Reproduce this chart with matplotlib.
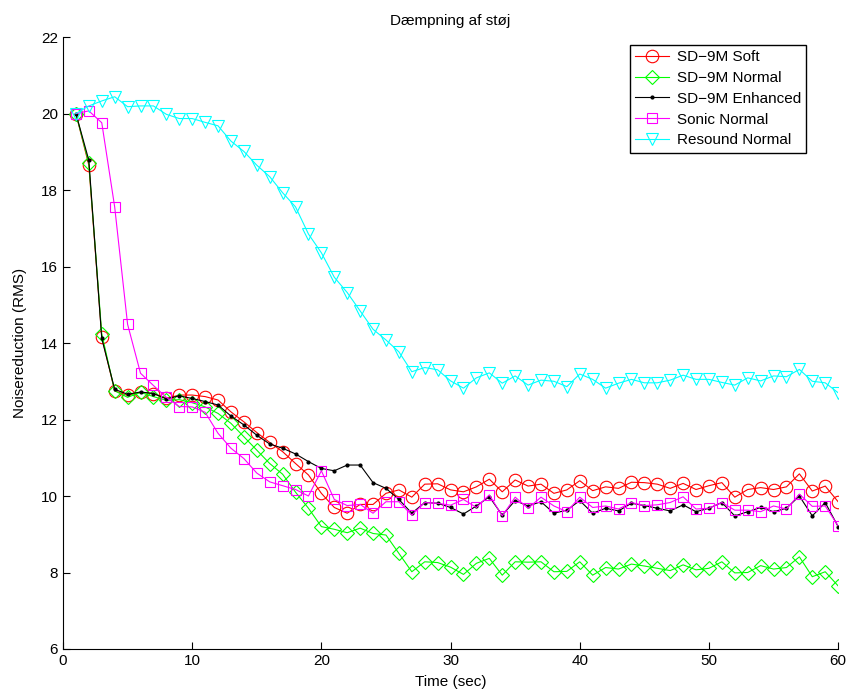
import numpy as np
import matplotlib
matplotlib.use("Agg")
import matplotlib.pyplot as plt

plt.rcParams['font.family'] = ['Liberation Sans', 'DejaVu Sans']

t = np.arange(1, 61)

sd9m_soft = [20.0, 18.65, 14.16, 12.75, 12.63, 12.71, 12.68, 12.55, 12.64, 12.64,
             12.6, 12.51, 12.2, 11.94, 11.66, 11.4, 11.16, 10.85, 10.55, 10.07,
             9.7, 9.55, 9.78, 9.78, 10.07, 10.16, 9.97, 10.31, 10.32, 10.16,
             10.11, 10.24, 10.44, 10.11, 10.42, 10.26, 10.31, 10.07, 10.16, 10.4,
             10.14, 10.24, 10.2, 10.36, 10.35, 10.31, 10.2, 10.33, 10.17, 10.27,
             10.35, 9.97, 10.17, 10.22, 10.17, 10.24, 10.58, 10.13, 10.26, 9.85]

sd9m_normal = [20.0, 18.7, 14.24, 12.75, 12.58, 12.71, 12.6, 12.5, 12.52, 12.44,
               12.33, 12.16, 11.9, 11.55, 11.2, 10.85, 10.57, 10.1, 9.68, 9.2,
               9.13, 9.04, 9.16, 9.02, 8.98, 8.5, 8.02, 8.28, 8.26, 8.14,
               7.95, 8.24, 8.37, 7.93, 8.28, 8.27, 8.28, 8.02, 8.03, 8.28,
               7.93, 8.13, 8.09, 8.22, 8.17, 8.11, 8.05, 8.2, 8.07, 8.11,
               8.28, 7.99, 8.0, 8.18, 8.09, 8.13, 8.41, 7.89, 8.02, 7.65]

sd9m_enhanced = [20.0, 18.78, 14.12, 12.79, 12.66, 12.72, 12.68, 12.54, 12.62, 12.55,
                 12.47, 12.38, 12.09, 11.86, 11.59, 11.36, 11.25, 11.1, 10.9, 10.72,
                 10.66, 10.81, 10.81, 10.35, 10.2, 9.91, 9.55, 9.83, 9.81, 9.7,
                 9.53, 9.74, 9.98, 9.5, 9.88, 9.74, 9.85, 9.55, 9.63, 9.88,
                 9.55, 9.68, 9.61, 9.81, 9.75, 9.68, 9.61, 9.77, 9.59, 9.68,
                 9.83, 9.48, 9.59, 9.7, 9.59, 9.68, 10.0, 9.48, 9.83, 9.2]

sonic_normal = [20.0, 20.07, 19.76, 17.56, 14.49, 13.21, 12.89, 12.58, 12.34, 12.33,
                12.19, 11.64, 11.25, 10.98, 10.6, 10.37, 10.27, 10.17, 10.0, 10.66,
                9.91, 9.75, 9.78, 9.55, 9.85, 9.85, 9.5, 9.83, 9.81, 9.76,
                9.91, 9.7, 10.03, 9.48, 9.97, 9.68, 9.97, 9.74, 9.59, 9.97,
                9.7, 9.74, 9.66, 9.83, 9.75, 9.77, 9.83, 9.98, 9.66, 9.68,
                9.83, 9.63, 9.63, 9.59, 9.74, 9.66, 10.05, 9.73, 9.74, 9.22]

resound_normal = [20.0, 20.2, 20.33, 20.44, 20.18, 20.2, 20.2, 19.98, 19.87, 19.87,
                  19.77, 19.68, 19.28, 19.01, 18.65, 18.35, 17.93, 17.56, 16.85, 16.36,
                  15.72, 15.32, 14.84, 14.36, 14.08, 13.77, 13.25, 13.36, 13.3, 13.01,
                  12.82, 13.09, 13.22, 12.95, 13.14, 12.9, 13.03, 13.0, 12.86, 13.19,
                  13.05, 12.82, 12.95, 13.05, 12.96, 12.96, 13.03, 13.16, 13.05, 13.05,
                  12.97, 12.9, 13.09, 13.01, 13.14, 13.12, 13.31, 13.0, 12.96, 12.7]

fig = plt.figure(figsize=(8.49, 6.93), dpi=100)
ax = fig.add_axes([0.0742, 0.0635, 0.913, 0.883])

lw = 0.8
ax.plot(t, sd9m_soft, color=(1, 0, 0), marker='o', ms=9, mfc='none', lw=lw, mew=lw, label='SD\u22129M Soft')
ax.plot(t, sd9m_normal, color=(0, 1, 0), marker='D', ms=7.5, mfc='none', lw=lw, mew=lw, label='SD\u22129M Normal')
ax.plot(t, sd9m_enhanced, color='black', marker='.', ms=4, lw=lw, label='SD\u22129M Enhanced')
ax.plot(t, sonic_normal, color=(1, 0, 1), marker='s', ms=7.5, mfc='none', lw=lw, mew=lw, label='Sonic Normal')
ax.plot(t, resound_normal, color=(0, 1, 1), marker='v', ms=9, mfc='none', lw=lw, mew=lw, label='Resound Normal')

ax.set_xlim(0, 60)
ax.set_ylim(6, 22)
ax.set_xticks(np.arange(0, 61, 10))
ax.set_yticks(np.arange(6, 23, 2))
ax.tick_params(direction='in', length=5, labelsize=11, width=0.8)
ax.spines['top'].set_visible(False)
ax.spines['right'].set_visible(False)

ax.set_title('D\u00e6mpning af st\u00f8j', fontsize=11, pad=9)
ax.set_xlabel('Time (sec)', fontsize=11, labelpad=5)
ax.set_ylabel('Noisereduction (RMS)', fontsize=11, labelpad=10)

leg = ax.legend(loc='upper right', bbox_to_anchor=(0.9587, 0.987), borderaxespad=0,
                fontsize=11, fancybox=False, edgecolor='black', framealpha=1,
                handlelength=2.2, borderpad=0.35, labelspacing=0.44, handletextpad=0.5)
leg.get_frame().set_linewidth(1.0)

plt.savefig('out.png', dpi=100)
